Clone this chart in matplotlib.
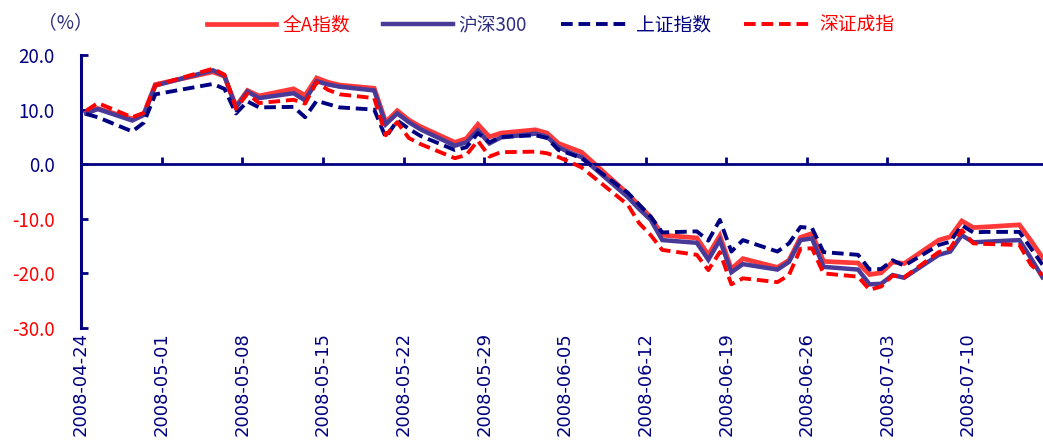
import datetime as dt
import matplotlib
matplotlib.use("Agg")
import matplotlib.pyplot as plt
import matplotlib.dates as mdates

plt.rcParams['font.family'] = ['Noto Sans CJK SC', 'DejaVu Sans']
plt.rcParams['axes.unicode_minus'] = False

NAVY = "#000080"
RED = "#FF0000"

# trading days
DATES = [
    "2008-04-24", "2008-04-25", "2008-04-28", "2008-04-29", "2008-04-30",
    "2008-05-05", "2008-05-06", "2008-05-07", "2008-05-08", "2008-05-09",
    "2008-05-12", "2008-05-13", "2008-05-14", "2008-05-15", "2008-05-16",
    "2008-05-19", "2008-05-20", "2008-05-21", "2008-05-22", "2008-05-23",
    "2008-05-26", "2008-05-27", "2008-05-28", "2008-05-29", "2008-05-30",
    "2008-06-02", "2008-06-03", "2008-06-04", "2008-06-05", "2008-06-06",
    "2008-06-10", "2008-06-11", "2008-06-12", "2008-06-13",
    "2008-06-16", "2008-06-17", "2008-06-18", "2008-06-19", "2008-06-20",
    "2008-06-23", "2008-06-24", "2008-06-25", "2008-06-26", "2008-06-27",
    "2008-06-30", "2008-07-01", "2008-07-02", "2008-07-03", "2008-07-04",
    "2008-07-07", "2008-07-08", "2008-07-09", "2008-07-10", "2008-07-11",
    "2008-07-14", "2008-07-15", "2008-07-16",
]

# cumulative change since 2008-04-23, %
QUAN_A = [
    9.4, 10.2, 8.3, 9.2, 14.6,
    16.9, 16.1, 10.6, 13.5, 12.5,
    13.8, 12.6, 15.8, 15.0, 14.5,
    13.9, 7.7, 9.8, 8.1, 6.9,
    4.0, 4.7, 7.3, 5.0, 5.7,
    6.3, 5.7, 3.8, 3.0, 2.2,
    -5.4, -7.6, -9.7, -13.0,
    -13.5, -16.6, -13.1, -19.2, -17.3,
    -18.9, -17.6, -13.4, -12.7, -17.8,
    -18.1, -20.2, -19.9, -17.9, -18.2,
    -13.9, -13.3, -10.4, -11.6, -11.5,
    -11.1, -14.0, -17.1,
]
HS300 = [
    9.3, 10.1, 8.0, 9.0, 14.4,
    17.2, 16.2, 10.4, 13.3, 12.1,
    13.0, 11.7, 15.2, 14.6, 14.2,
    13.5, 7.3, 9.3, 7.7, 6.4,
    3.4, 4.0, 6.2, 3.8, 4.9,
    5.6, 5.0, 3.1, 2.1, 1.3,
    -6.0, -8.2, -10.2, -13.9,
    -14.4, -17.5, -13.9, -19.8, -18.3,
    -19.3, -17.9, -13.9, -13.6, -18.8,
    -19.3, -22.0, -21.9, -20.3, -20.8,
    -16.6, -16.0, -13.0, -14.3, -14.2,
    -13.9, -17.2, -20.7,
]
SH_COMP = [
    9.2, 8.6, 6.0, 7.6, 12.8,
    14.7, 13.8, 9.3, 11.5, 10.4,
    10.5, 8.6, 11.6, 11.0, 10.4,
    10.0, 4.9, 8.0, 6.5, 5.2,
    2.6, 3.1, 5.7, 4.0, 5.0,
    5.3, 4.8, 2.6, 1.9, 1.1,
    -5.2, -7.4, -9.6, -12.5,
    -12.3, -14.0, -10.2, -16.0, -13.9,
    -16.0, -14.5, -11.5, -11.7, -16.1,
    -16.6, -19.3, -19.2, -17.6, -18.6,
    -14.8, -14.2, -11.2, -12.5, -12.4,
    -12.4, -15.4, -18.4,
]
SZ_COMP = [
    9.8, 11.2, 8.6, 9.4, 14.4,
    17.5, 16.4, 10.2, 12.9, 11.2,
    11.8, 11.1, 15.0, 13.6, 12.8,
    12.1, 5.3, 7.7, 4.8, 3.7,
    1.1, 1.7, 4.3, 1.4, 2.2,
    2.3, 2.0, 1.3, 0.4, -0.6,
    -7.4, -10.8, -13.0, -15.7,
    -16.6, -19.4, -16.1, -22.0, -20.9,
    -21.6, -20.3, -15.5, -15.4, -20.0,
    -20.6, -23.0, -22.4, -20.4, -20.7,
    -16.1, -15.4, -12.1, -14.5, -14.6,
    -14.8, -18.4, -20.3,
]

TICK_DATES = [
    "2008-04-24", "2008-05-01", "2008-05-08", "2008-05-15", "2008-05-22",
    "2008-05-29", "2008-06-05", "2008-06-12", "2008-06-19", "2008-06-26",
    "2008-07-03", "2008-07-10",
]
Y_TICKS = [20, 10, 0, -10, -20, -30]


def to_num(s):
    return mdates.date2num(dt.datetime.strptime(s, "%Y-%m-%d"))


x = [to_num(d) + 0.45 for d in DATES]
ticks = [to_num(d) for d in TICK_DATES]

fig = plt.figure(figsize=(10.43, 4.45), dpi=100)
ax = fig.add_axes([81 / 1043, 1 - 328 / 445, (1043 - 81) / 1043, (328 - 55) / 445])

l1, = ax.plot(x, QUAN_A, color="#FF3838", lw=3.4, solid_joinstyle="miter", zorder=2)
l2, = ax.plot(x, HS300, color="#4A3A98", lw=3.2, solid_joinstyle="miter", zorder=3)
l3, = ax.plot(x, SH_COMP, color=NAVY, lw=2.8, dashes=(3.0, 1.5), zorder=4)
l4, = ax.plot(x, SZ_COMP, color=RED, lw=2.8, dashes=(3.0, 1.5), zorder=5)

ax.set_xlim(ticks[0], ticks[0] + 83.5)
ax.set_ylim(-30, 20)

for side in ["top", "right"]:
    ax.spines[side].set_visible(False)
ax.spines["left"].set_color(NAVY)
ax.spines["left"].set_linewidth(2.2)
ax.spines["bottom"].set_position(("data", 0))
ax.spines["bottom"].set_color(NAVY)
ax.spines["bottom"].set_linewidth(2.0)

ax.set_xticks(ticks)
ax.tick_params(axis="x", direction="in", length=5, width=2, color=NAVY, labelbottom=False)

ax.set_yticks(Y_TICKS)
ax.set_yticklabels(["%.1f" % v for v in Y_TICKS])
ax.tick_params(axis="y", direction="in", length=5, width=2, color=NAVY, labelsize=13.5, pad=19)
for lab, v in zip(ax.get_yticklabels(), Y_TICKS):
    lab.set_color(NAVY if v >= 0 else RED)

# date labels sit under the plot area, not on the zero line
sec = ax.secondary_xaxis("bottom")
sec.set_xticks(ticks)
sec.set_xticklabels(TICK_DATES, rotation=90, color=NAVY, fontsize=13,
                    family=["DejaVu Sans"])
sec.tick_params(length=0, pad=3)
sec.spines["bottom"].set_visible(False)

fig.text(65 / 1043, 1 - 23 / 445, "（%）", color="#2E2E80", fontsize=13.5, ha="center", va="center")

leg = fig.legend([l1, l2, l3, l4], ["全A指数", "沪深300", "上证指数", "深证成指"],
                 loc="center", bbox_to_anchor=(0.528, 0.943), ncol=4, frameon=False,
                 fontsize=13.5, handlelength=3.7, handletextpad=0.3, columnspacing=1.8)
for txt, c in zip(leg.get_texts(), [RED, "#2E2E80", NAVY, RED]):
    txt.set_color(c)

fig.savefig("out.png", dpi=100)
